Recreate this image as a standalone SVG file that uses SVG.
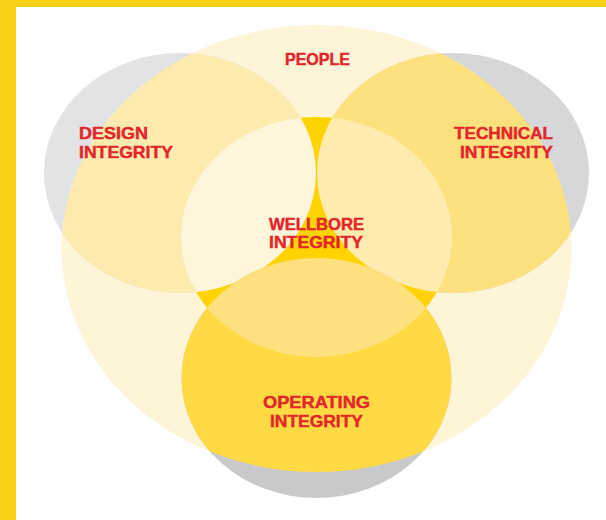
<svg xmlns="http://www.w3.org/2000/svg" width="606" height="520" viewBox="0 0 606 520">
  <style>
    .lbl { font-family: "Liberation Sans", Arial, sans-serif; font-weight: bold; font-size: 17px; fill: #E3262B; stroke: #E3262B; stroke-width: 0.45px; }
    .border { fill: #F8D117; }
  </style>
  <defs>
    <clipPath id="clipP"><ellipse cx="316.5" cy="248.5" rx="255" ry="223.5"/></clipPath>
    <clipPath id="clipW"><ellipse cx="316.5" cy="237" rx="135.5" ry="120"/></clipPath>
    <mask id="maskW" maskUnits="userSpaceOnUse" x="0" y="0" width="606" height="520">
      <rect x="0" y="0" width="606" height="520" fill="#fff"/>
      <ellipse cx="180" cy="173" rx="136" ry="120" fill="#000"/>
      <ellipse cx="453" cy="173" rx="136" ry="120" fill="#000"/>
      <ellipse cx="316.5" cy="378" rx="135" ry="120" fill="#000"/>
    </mask>
  </defs>
  <rect x="0" y="0" width="606" height="520" fill="#ffffff"/>
  <rect class="border" x="0" y="0" width="16" height="520"/>
  <rect class="border" x="0" y="0" width="606" height="7"/>

  <g id="people">
    <ellipse cx="316.5" cy="248.5" rx="255" ry="223.5" fill="#FEF4D8"/>
    <text class="lbl" x="285" y="65" textLength="65" lengthAdjust="spacingAndGlyphs">PEOPLE</text>
  </g>

  <g id="design">
    <ellipse cx="180" cy="173" rx="136" ry="120" fill="#E2E3E5"/>
    <ellipse cx="180" cy="173" rx="136" ry="120" fill="#FDEAAE" clip-path="url(#clipP)"/>
    <ellipse cx="180" cy="173" rx="136" ry="120" fill="#FEF5DB" clip-path="url(#clipW)"/>
    <text class="lbl" x="79" y="139" textLength="69" lengthAdjust="spacingAndGlyphs">DESIGN</text>
    <text class="lbl" x="79" y="158" textLength="94" lengthAdjust="spacingAndGlyphs">INTEGRITY</text>
  </g>

  <g id="technical">
    <ellipse cx="453" cy="173" rx="136" ry="120" fill="#D6D7D9"/>
    <ellipse cx="453" cy="173" rx="136" ry="120" fill="#FEE17F" clip-path="url(#clipP)"/>
    <ellipse cx="453" cy="173" rx="136" ry="120" fill="#FEEBB0" clip-path="url(#clipW)"/>
    <text class="lbl" x="454" y="139" textLength="99" lengthAdjust="spacingAndGlyphs">TECHNICAL</text>
    <text class="lbl" x="460" y="158" textLength="93" lengthAdjust="spacingAndGlyphs">INTEGRITY</text>
  </g>

  <g id="operating">
    <ellipse cx="316.5" cy="378" rx="135" ry="120" fill="#C8C9CB"/>
    <ellipse cx="316.5" cy="378" rx="135" ry="120" fill="#FFDA44" clip-path="url(#clipP)"/>
    <ellipse cx="316.5" cy="378" rx="135" ry="120" fill="#FEE17E" clip-path="url(#clipW)"/>
    <text class="lbl" x="263" y="408" textLength="107" lengthAdjust="spacingAndGlyphs">OPERATING</text>
    <text class="lbl" x="270" y="427" textLength="93" lengthAdjust="spacingAndGlyphs">INTEGRITY</text>
  </g>

  <g id="wellbore">
    <ellipse cx="316.5" cy="237" rx="135.5" ry="120" fill="#FFD300" mask="url(#maskW)"/>
    <text class="lbl" x="269" y="230" textLength="95" lengthAdjust="spacingAndGlyphs">WELLBORE</text>
    <text class="lbl" x="269" y="248" textLength="94" lengthAdjust="spacingAndGlyphs">INTEGRITY</text>
  </g>

  <g id="connectors"/>
</svg>
